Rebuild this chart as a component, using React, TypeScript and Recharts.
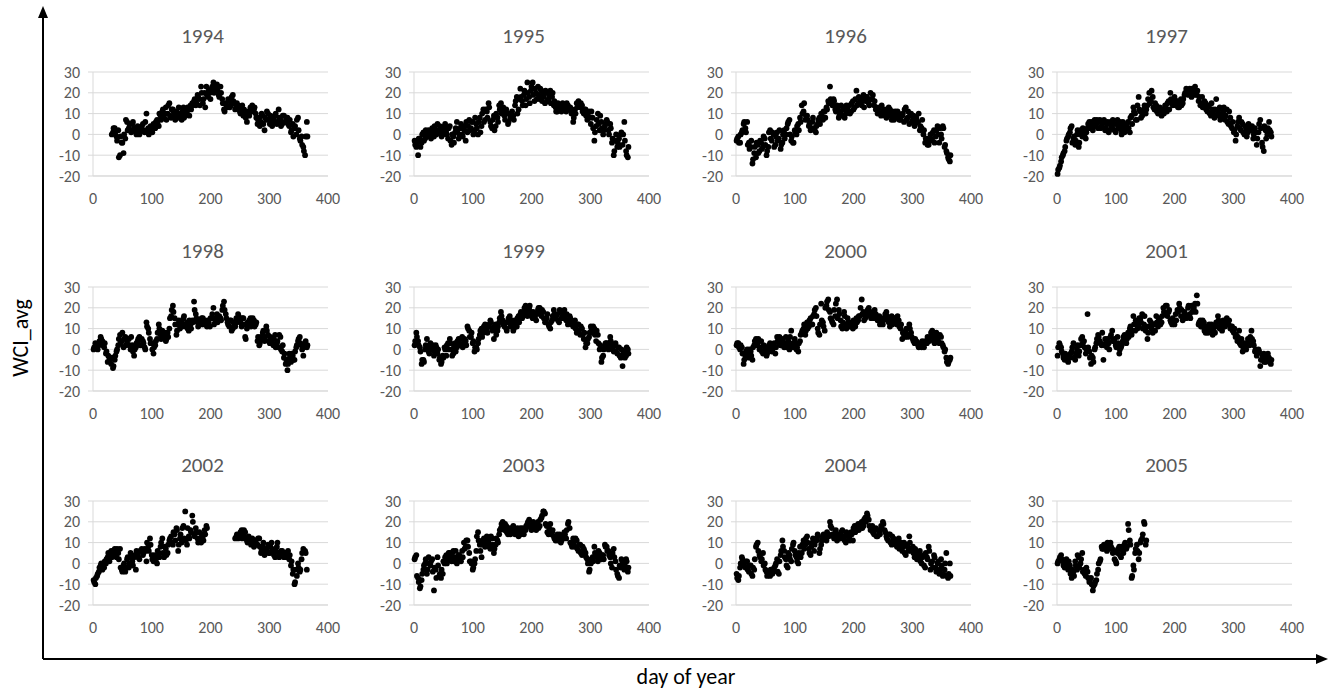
import { ScatterChart, Scatter, XAxis, YAxis, CartesianGrid } from 'recharts';

// day of year for the first set of samples
const DAYS_A = [
  1, 4, 7, 10, 13, 16, 19, 22, 25, 28,
  31, 34, 37, 40, 43, 46, 49, 52, 55, 58,
  61, 64, 67, 70, 73, 76, 79, 82, 85, 88,
  91, 94, 97, 100, 103, 106, 109, 112, 115, 118,
  121, 124, 127, 130, 133, 136, 139, 142, 145, 148,
  151, 154, 157, 160, 163, 166, 169, 172, 175, 178,
  181, 184, 187, 190, 193, 196, 199, 202, 205, 208,
  211, 214, 217, 220, 223, 226, 229, 232, 235, 238,
  241, 244, 247, 250, 253, 256, 259, 262, 265, 268,
  271, 274, 277, 280, 283, 286, 289, 292, 295, 298,
  301, 304, 307, 310, 313, 316, 319, 322, 325, 328,
  331, 334, 337, 340, 343, 346, 349, 352, 355, 358,
  361, 364,
];

// day of year for the second set of samples
const DAYS_B = [
  2, 5, 8, 11, 14, 17, 20, 23, 26, 29,
  32, 35, 38, 41, 44, 47, 50, 53, 56, 59,
  62, 65, 68, 71, 74, 77, 80, 83, 86, 89,
  92, 95, 98, 101, 104, 107, 110, 113, 116, 119,
  122, 125, 128, 131, 134, 137, 140, 143, 146, 149,
  152, 155, 158, 161, 164, 167, 170, 173, 176, 179,
  182, 185, 188, 191, 194, 197, 200, 203, 206, 209,
  212, 215, 218, 221, 224, 227, 230, 233, 236, 239,
  242, 245, 248, 251, 254, 257, 260, 263, 266, 269,
  272, 275, 278, 281, 284, 287, 290, 293, 296, 299,
  302, 305, 308, 311, 314, 317, 320, 323, 326, 329,
  332, 335, 338, 341, 344, 347, 350, 353, 356, 359,
  362, 365,
];

const WCI_1994_A = [
  null, null, null, null, null, null, null, null, null, null,
  null, 1, 3, -1, 2, -10, -4, -9, -2, 6,
  3, 2, 5, 3, 1, 4, 0, 2, 5, 1,
  10, 3, 1, 2, 5, 3, 7, 4, 9, 11,
  8, 13, 10, 15, 8, 12, 9, 11, 8, 10,
  7, 13, 9, 11, 12, 14, 15, 16, 14, 19,
  17, 23, 15, 20, 23, 18, 20, 22, 25, 21,
  24, 19, 23, 17, 12, 15, 13, 16, 14, 19,
  15, 13, 14, 11, 12, 9, 11, 6, 10, 13,
  14, 12, 10, 5, 8, 6, 9, 2, 7, 10,
  5, 8, 6, 9, 5, 12, 7, 5, 9, 6,
  8, 4, 1, 5, 3, 0, 8, -2, -1, -6,
  -10, 6,
];
const WCI_1994_B = [
  null, null, null, null, null, null, null, null, null, null,
  0, 3, 1, -3, -11, -1, -4, 0, 7, 2,
  5, 1, 6, 2, 0, 3, 1, 4, 2, 6,
  2, 0, 4, 1, 3, 6, 5, 10, 7, 12,
  10, 7, 14, 9, 12, 11, 7, 10, 13, 9,
  11, 8, 10, 13, 9, 12, 14, 17, 15, 18,
  14, 20, 17, 13, 19, 21, 17, 23, 20, 23,
  21, 18, 20, 15, 11, 14, 17, 13, 18, 16,
  12, 15, 13, 10, 14, 12, 8, 11, 9, 12,
  11, 13, 8, 7, 4, 10, 5, 8, 11, 7,
  9, 4, 7, 10, 6, 8, 4, 9, 6, 8,
  5, 7, 2, -1, 4, 7, 2, -3, -5, -8,
  -1, -1,
];

const WCI_1995_A = [
  -3, -6, -10, -2, -4, 1, -2, 0, 2, -1,
  3, -1, 2, 5, 1, 3, 0, 4, 2, -2,
  4, -5, -1, 1, 6, -2, 3, 0, 4, -3,
  1, 7, 3, 6, 2, 5, 0, 8, 4, 12,
  7, 11, 15, 6, 3, 9, 4, 8, 14, 15,
  11, 9, 12, 5, 10, 8, 9, 14, 18, 12,
  22, 16, 19, 14, 25, 18, 21, 25, 16, 20,
  23, 17, 21, 19, 15, 20, 17, 21, 18, 14,
  13, 11, 14, 12, 15, 13, 11, 14, 12, 10,
  6, 12, 15, 16, 13, 14, 10, 12, 7, 11,
  5, 8, -3, 4, 10, 2, 6, 0, 4, 7,
  2, 5, -4, -10, -3, -6, -2, 0, -5, 6,
  -8, -11,
];
const WCI_1995_B = [
  -5, -4, -2, -6, 0, -3, 2, -1, 1, -2,
  1, 4, 0, 2, 4, -1, 2, 5, 0, 3,
  -3, 0, -4, 3, 2, 0, 5, -1, 2, 6,
  4, 2, 6, 0, 8, 3, 6, 1, 10, 6,
  12, 8, 13, 4, 7, 2, 10, 6, 12, 10,
  13, 7, 10, 6, 8, 11, 7, 16, 10, 17,
  18, 14, 21, 17, 20, 15, 23, 19, 22, 17,
  19, 22, 16, 18, 21, 16, 19, 15, 20, 16,
  11, 15, 13, 11, 12, 14, 15, 12, 13, 11,
  8, 10, 13, 14, 15, 11, 12, 9, 10, 8,
  11, 3, 1, 7, 5, 9, 3, 2, 5, 6,
  0, 3, -2, -8, 0, -4, -6, 1, 0, -3,
  -10, -6,
];

const WCI_1996_A = [
  -3, -1, -4, 1, 5, 3, 6, -4, -6, -14,
  -9, -11, -5, -8, -4, -6, -2, -10, -6, 2,
  -3, 0, -5, 1, -2, -7, -4, 2, 0, 5,
  7, -3, -4, 2, 0, 5, 8, 14, 11, 7,
  9, 4, 2, 6, 3, 1, 5, 8, 10, 7,
  11, 13, 16, 23, 15, 17, 12, 14, 8, 11,
  9, 13, 10, 12, 14, 11, 16, 13, 21, 15,
  17, 14, 19, 16, 18, 15, 20, 17, 14, 12,
  10, 13, 9, 11, 12, 8, 10, 12, 7, 9,
  11, 8, 10, 7, 9, 6, 13, 8, 5, 10,
  7, 4, 8, 6, 2, 3, 0, -4, -2, -5,
  0, -3, 2, -1, 4, -4, 0, 4, -6, -8,
  -11, -13,
];
const WCI_1996_B = [
  -2, -4, 0, 2, 6, 1, -5, -7, -3, -12,
  -6, -4, -9, -3, -7, -1, -5, -8, 1, -2,
  1, -6, -1, -3, 2, -5, 0, -2, 3, 6,
  0, -1, -4, 1, 4, 2, 6, 10, 15, 9,
  7, 5, 3, 8, 2, 4, 7, 5, 9, 11,
  8, 12, 15, 17, 14, 16, 11, 13, 9, 14,
  12, 8, 14, 11, 10, 15, 12, 17, 14, 18,
  15, 17, 13, 18, 16, 14, 17, 19, 16, 13,
  12, 10, 14, 10, 9, 11, 13, 9, 11, 7,
  9, 11, 7, 9, 10, 12, 7, 11, 9, 6,
  9, 5, 6, 10, 4, 7, 2, -2, -5, -3,
  -2, 1, -4, 2, 0, 3, -2, 3, -5, -9,
  -12, -10,
];

const WCI_1997_A = [
  -19, -16, -13, -10, -8, -3, -1, 1, 4, -2,
  -5, 0, -6, 2, -1, 1, -2, 3, 6, 4,
  2, 7, 5, 3, 7, 4, 6, 2, 5, 1,
  6, 3, 5, 1, 7, 4, 2, 6, 1, 3,
  6, 1, 9, 13, 10, 7, 18, 11, 9, 12,
  10, 14, 20, 16, 18, 12, 14, 10, 13, 9,
  12, 14, 11, 16, 20, 15, 17, 14, 16, 13,
  17, 15, 19, 22, 20, 22, 18, 21, 23, 19,
  16, 14, 18, 13, 15, 11, 14, 9, 12, 8,
  17, 10, 13, 8, 11, 7, 12, 5, 8, 3,
  1, -3, 4, 8, 2, 5, 0, 3, 1, 4,
  2, -2, 3, -5, 1, 7, -4, -8, 2, 0,
  6, 1,
];
const WCI_1997_B = [
  -17, -15, -11, -9, -6, -2, 0, 3, -4, -1,
  -3, 2, -4, 0, 3, -1, 1, 5, 3, 6,
  5, 4, 7, 6, 3, 5, 7, 3, 6, 2,
  4, 7, 2, 5, 3, 6, 0, 4, 2, 5,
  3, 8, 5, 11, 7, 14, 12, 8, 10, 14,
  12, 17, 15, 21, 13, 15, 11, 12, 10, 12,
  10, 13, 15, 12, 17, 14, 18, 16, 13, 15,
  14, 17, 20, 21, 19, 20, 22, 19, 20, 21,
  18, 15, 13, 16, 12, 13, 10, 15, 10, 12,
  9, 12, 7, 10, 13, 9, 6, 11, 4, 6,
  2, 0, 6, 3, 6, 1, 4, -1, 5, 2,
  4, 0, 1, -2, 5, 3, -6, 4, -2, 3,
  2, -1,
];

const WCI_1998_A = [
  0, 3, 1, 2, 6, 4, 1, -2, -6, -4,
  -7, -9, -5, -1, 2, 7, 4, 1, 6, 3,
  5, 0, 2, -3, 1, 4, 6, 2, 4, 1,
  13, 10, 5, 3, -2, 2, 5, 12, 7, 9,
  6, 4, 8, 10, 16, 21, 15, 7, 12, 10,
  13, 15, 11, 13, 9, 12, 14, 23, 17, 13,
  14, 12, 15, 13, 12, 14, 11, 15, 20, 13,
  17, 14, 15, 19, 23, 17, 13, 11, 14, 10,
  12, 15, 17, 14, 11, 15, 6, 10, 12, 15,
  13, 14, 12, 4, 2, 6, 8, 4, 11, 7,
  3, 5, 2, 7, 3, 1, 6, -1, -4, -7,
  -10, -2, -6, -3, -5, 1, 4, 6, 2, -3,
  3, 1,
];
const WCI_1998_B = [
  1, 2, 0, 4, 5, 2, 3, -1, -3, -5,
  -4, -8, -3, 0, 5, 3, 8, 5, 2, 5,
  2, 6, -1, 0, 3, 5, 2, 5, 3, 0,
  11, 8, 3, 0, 1, 4, 8, 10, 5, 6,
  8, 5, 6, 15, 19, 18, 12, 9, 14, 11,
  11, 16, 12, 10, 14, 10, 13, 19, 15, 11,
  13, 15, 12, 14, 11, 13, 15, 17, 12, 15,
  13, 16, 14, 21, 19, 15, 12, 14, 9, 13,
  11, 13, 16, 13, 15, 12, 5, 13, 14, 11,
  15, 11, 13, 6, 3, 5, 9, 6, 9, 4,
  6, 3, 5, 1, 4, 7, 0, 2, -2, -5,
  -7, -4, -2, -5, -1, 2, 5, 3, 0, 1,
  4, 2,
];

const WCI_1999_A = [
  2, 8, 4, 1, -7, -5, 0, 5, -1, 3,
  0, -3, 2, -2, -5, -7, -3, 1, -3, 3,
  5, 0, -2, 3, 1, 5, 2, 6, 3, 4,
  11, 9, 6, 3, -1, 1, 3, 7, 10, 8,
  12, 9, 11, 14, 10, 5, 12, 9, 13, 18,
  14, 11, 10, 13, 16, 12, 9, 14, 11, 16,
  17, 15, 18, 21, 16, 20, 18, 15, 17, 14,
  19, 20, 16, 18, 13, 15, 12, 10, 14, 19,
  15, 17, 13, 18, 16, 19, 14, 12, 16, 13,
  11, 14, 8, 12, 7, 10, 5, 1, 3, 6,
  11, 8, 10, 4, 7, 0, -6, -3, 1, 3,
  0, 6, 2, -1, 3, -2, 1, -4, -8, -1,
  -3, 0,
];
const WCI_1999_B = [
  4, 6, 2, -1, -5, -6, 2, 1, -2, 1,
  2, -1, 1, 0, -4, -6, -4, 0, 2, 0,
  3, -3, 1, -1, 4, 3, 5, 1, 5, 2,
  10, 6, 8, 4, 1, 0, 5, 9, 6, 11,
  10, 8, 12, 13, 9, 11, 7, 11, 15, 16,
  12, 13, 9, 15, 11, 14, 10, 12, 15, 13,
  18, 16, 20, 17, 19, 21, 16, 18, 15, 17,
  20, 17, 19, 15, 14, 17, 11, 13, 16, 17,
  16, 14, 19, 15, 17, 15, 17, 13, 15, 12,
  13, 10, 12, 9, 11, 7, 8, 3, 5, 8,
  10, 11, 7, 9, 3, 2, -4, 0, 3, 1,
  3, 4, 0, 2, -1, 1, -3, 0, -2, -4,
  1, -2,
];

const WCI_2000_A = [
  2, 3, 0, 1, -7, -3, 0, -4, -1, -5,
  2, 5, 3, 0, 4, -2, 1, -3, 0, 3,
  -1, 1, -2, 6, 3, 2, 4, 1, 6, 2,
  0, 9, 3, 5, 0, -1, 4, 8, 10, 7,
  13, 11, 15, 12, 17, 20, 10, 7, 22, 13,
  9, 21, 24, 18, 14, 12, 16, 24, 19, 14,
  10, 18, 12, 15, 11, 13, 10, 12, 15, 14,
  16, 24, 18, 15, 17, 20, 16, 18, 15, 17,
  14, 16, 13, 12, 15, 18, 14, 11, 16, 13,
  15, 12, 14, 10, 5, 7, 9, 6, 12, 8,
  5, 3, 4, 2, 3, 1, 2, 4, 3, 5,
  6, 9, 4, 7, 5, 3, 6, 2, -1, -4,
  -7, -5,
];
const WCI_2000_B = [
  3, 1, 2, -2, -5, -1, -2, 0, -3, 1,
  4, 2, 5, 1, -1, 2, 0, -2, 2, 1,
  0, 3, 1, 4, 6, 2, 5, 3, 1, 4,
  6, 2, 1, 3, 1, 3, 7, 9, 12, 9,
  10, 14, 12, 16, 19, 16, 8, 12, 14, 11,
  20, 23, 19, 15, 13, 19, 22, 15, 17, 11,
  13, 16, 10, 13, 12, 11, 14, 11, 13, 16,
  20, 17, 14, 16, 19, 17, 15, 17, 19, 16,
  15, 12, 15, 14, 17, 16, 13, 15, 12, 15,
  13, 16, 11, 12, 8, 6, 10, 7, 10, 6,
  4, 5, 3, 1, 2, 4, 1, 3, 6, 4,
  8, 6, 3, 8, 4, 7, 3, 1, 0, -6,
  -6, -4,
];

const WCI_2001_A = [
  -3, 3, 1, -2, -5, -3, -6, -4, -1, 3,
  -5, 0, -3, 2, 6, 4, -2, 17, -1, -7,
  -4, 0, 3, 7, 4, 2, -5, 5, 1, 3,
  6, 9, 4, 2, 6, -2, 1, 4, 7, 3,
  8, 10, 7, 16, 9, 13, 11, 15, 17, 12,
  9, 5, 11, 13, 8, 12, 16, 11, 14, 13,
  20, 17, 21, 18, 14, 12, 13, 17, 19, 22,
  16, 14, 18, 15, 20, 17, 21, 19, 22, 26,
  12, 14, 11, 13, 8, 10, 12, 9, 7, 11,
  13, 16, 10, 12, 14, 11, 15, 12, 10, 11,
  8, 6, 4, 9, 2, -1, 3, 0, 5, 2,
  9, 4, -1, -3, 0, -8, -5, -2, -6, -3,
  -4, -7,
];
const WCI_2001_B = [
  1, 2, -1, -4, -2, -5, -3, -2, 1, -4,
  -2, 2, -1, 5, 3, 1, 0, 1, -4, -3,
  -6, 1, 5, 6, 3, 8, 2, 3, 5, 0,
  7, 4, 5, 1, 3, 0, 2, 6, 4, 5,
  6, 11, 9, 12, 14, 10, 15, 13, 10, 16,
  11, 8, 14, 10, 12, 9, 13, 15, 12, 16,
  18, 21, 16, 19, 13, 15, 12, 14, 18, 20,
  19, 15, 17, 16, 21, 15, 18, 20, 18, 22,
  13, 11, 14, 9, 11, 8, 10, 12, 10, 8,
  11, 14, 13, 9, 11, 13, 12, 14, 11, 9,
  10, 7, 6, 3, 5, 1, 0, 2, 4, 6,
  5, 2, 0, -2, -1, -5, -3, -6, -4, -2,
  -6, -5,
];

const WCI_2002_A = [
  -8, -10, -6, -4, -1, -3, -2, 0, 3, 1,
  6, 4, 7, 3, 5, 7, -3, -1, -4, 2,
  -2, 5, 1, 3, -3, 5, 2, 6, 4, 7,
  1, 8, 12, 4, 1, 3, 0, 5, 8, 12,
  3, 7, 5, 11, 13, 9, 14, 17, 6, 12,
  10, 18, 25, 9, 13, 16, 23, 14, 17, 12,
  15, 10, 13, 16, 18, null, null, null, null, null,
  null, null, null, null, null, null, null, null, null, null,
  null, 13, 12, 14, 16, 13, 15, 11, 13, 10,
  12, 8, 11, 9, 12, 5, 8, 4, 7, 9,
  5, 10, 6, 3, 8, 5, 4, 6, 3, 5,
  4, 2, -1, -5, -10, -3, 0, -4, 2, 7,
  6, -3,
];
const WCI_2002_B = [
  -9, -7, -5, -2, 0, -1, 1, 2, 5, 4,
  3, 6, 5, 7, 2, -2, -4, 0, -2, 3,
  0, 3, -1, 4, 6, 3, 6, 7, 5, 6,
  10, 6, 9, 2, 4, 1, 6, 3, 10, 5,
  8, 4, 9, 12, 10, 15, 11, 16, 9, 14,
  17, 12, 11, 17, 12, 15, 20, 13, 15, 10,
  12, 14, 11, 14, 17, null, null, null, null, null,
  null, null, null, null, null, null, null, null, null, null,
  12, 14, 13, 15, 12, 16, 12, 10, 12, 9,
  10, 11, 9, 12, 8, 6, 10, 5, 7, 5,
  8, 7, 4, 6, 10, 3, 6, 4, 5, 3,
  6, 4, 1, -3, -9, -6, -2, -3, 5, 6,
  5, null,
];

const WCI_2003_A = [
  2, 4, -7, -12, -8, -3, 0, -5, 3, -1,
  2, -13, -3, 3, -6, -7, -5, 0, 4, 2,
  5, 1, 6, 3, 0, 4, 2, 6, 10, 8,
  11, 5, 1, -3, 0, 6, 15, 9, 3, 11,
  8, 13, 10, 7, 12, 5, 9, 11, 14, 17,
  20, 16, 18, 14, 17, 15, 18, 14, 16, 13,
  17, 15, 14, 16, 19, 21, 17, 19, 18, 16,
  20, 18, 22, 25, 24, 18, 14, 19, 15, 13,
  11, 14, 12, 10, 13, 15, 12, 19, 17, 9,
  12, 8, 11, 6, 9, 4, 7, 5, 2, -4,
  0, 3, 8, 4, 1, 5, 2, 4, 9, 8,
  6, 3, -2, 7, 1, -5, -7, -2, 1, -3,
  2, -4,
];
const WCI_2003_B = [
  3, -6, -9, -11, -5, -1, 2, -3, 0, 1,
  -4, -2, -7, -1, -5, -3, 1, 3, 0, 5,
  3, 5, 1, 6, 2, 4, 1, 3, 7, 11,
  8, 1, 0, -2, 2, 13, 11, 6, 9, 12,
  10, 11, 8, 13, 9, 7, 12, 10, 16, 19,
  17, 19, 15, 16, 14, 17, 16, 15, 17, 15,
  14, 17, 16, 18, 20, 18, 16, 20, 17, 19,
  17, 21, 23, 25, 19, 15, 17, 14, 16, 12,
  13, 11, 14, 11, 12, 14, 16, 20, 10, 8,
  10, 12, 7, 9, 5, 8, 6, 3, 0, -3,
  2, 1, 5, 3, 6, 3, 4, 2, 8, 6,
  4, 0, 5, 3, -3, -6, -1, 2, 0, -1,
  1, -2,
];

const WCI_2004_A = [
  -5, -8, -2, 3, 0, -2, 1, -4, -1, -6,
  -3, 8, 10, 4, 1, 5, 0, -4, -5, -6,
  -3, -4, -1, 2, -5, 4, 11, 6, 2, -2,
  4, 1, 9, 6, 3, 0, 8, 5, 11, 9,
  13, 7, 4, 10, 6, 12, 14, 5, 9, 12,
  13, 11, 14, 20, 17, 13, 15, 11, 14, 12,
  16, 13, 10, 14, 12, 15, 11, 18, 16, 19,
  17, 20, 18, 22, 24, 21, 16, 18, 14, 17,
  13, 15, 18, 20, 16, 13, 11, 14, 9, 12,
  10, 8, 12, 9, 6, 10, 4, 8, 13, 6,
  8, 3, 5, 2, 6, 0, 4, -2, 3, 8,
  -3, 1, 4, -2, 0, -5, 2, -6, -3, 5,
  -7, 0,
];
const WCI_2004_B = [
  -7, -6, 0, 2, -1, 1, -3, -1, -5, -2,
  2, 9, 6, 3, 2, -1, -3, -6, -4, -3,
  -5, -2, 0, -4, 1, 6, 8, 3, -1, 5,
  2, 7, 10, 4, 1, 5, 3, 9, 7, 12,
  10, 5, 8, 12, 9, 11, 13, 7, 11, 14,
  12, 15, 13, 18, 14, 12, 16, 13, 12, 15,
  13, 11, 15, 13, 11, 14, 17, 15, 18, 16,
  19, 17, 21, 20, 23, 18, 17, 15, 16, 13,
  16, 14, 17, 19, 15, 12, 14, 10, 13, 11,
  9, 11, 7, 10, 8, 5, 9, 6, 10, 7,
  5, 7, 2, 4, 1, 3, -1, 5, 2, 6,
  0, -2, 3, -4, 1, -3, -1, -5, 0, -6,
  -5, -6,
];

const WCI_2005_A = [
  0, 2, 4, 1, -2, 2, -3, -1, -7, -4,
  1, -3, 3, 0, 5, -3, -6, -4, -9, -7,
  -13, -10, -8, -3, 1, 8, 7, 9, 6, 8,
  10, 7, 6, 1, 5, 8, 3, 6, 9, 7,
  19, 11, -7, -1, 5, 9, 2, 10, 12, 20,
  9,
];
const WCI_2005_B = [
  1, 3, 2, -1, 0, -2, 1, -5, -3, -6,
  -1, 4, -2, 2, -4, -5, -2, -7, -8, -10,
  -11, -9, -5, 0, 2, 7, 9, 8, 10, 7,
  8, 5, 2, 0, 7, 4, 8, 5, 10, 8,
  16, 9, -6, -3, 7, 6, 5, 11, 14, 19,
  11,
];

const YEARS = ['1994', '1995', '1996', '1997', '1998', '1999', '2000', '2001', '2002', '2003', '2004', '2005'];
const SERIES_A = [WCI_1994_A, WCI_1995_A, WCI_1996_A, WCI_1997_A, WCI_1998_A, WCI_1999_A, WCI_2000_A, WCI_2001_A, WCI_2002_A, WCI_2003_A, WCI_2004_A, WCI_2005_A];
const SERIES_B = [WCI_1994_B, WCI_1995_B, WCI_1996_B, WCI_1997_B, WCI_1998_B, WCI_1999_B, WCI_2000_B, WCI_2001_B, WCI_2002_B, WCI_2003_B, WCI_2004_B, WCI_2005_B];
const X_TICKS = [0, 100, 200, 300, 400];
const Y_TICKS = [-20, -10, 0, 10, 20, 30];

const FONT = "Calibri, Carlito, 'Open Sans', sans-serif";
const COL_X = [93, 414, 736, 1057];
const ROW_Y = [72, 287, 501];
const PLOT_W = 235;
const PLOT_H = 104;
const AXIS_W = 60;

const Dot = (p: any) => <circle cx={p.cx} cy={p.cy} r={2.9} fill="#000" />;

function toPoints(days: number[], values: (number | null)[]) {
  return days.map((d, i) => ({ day: d, wci: values[i] })).filter((p) => p.wci != null);
}

function YearPanel({ index, left, top }: { index: number; left: number; top: number }) {
  const data = [...toPoints(DAYS_A, SERIES_A[index]), ...toPoints(DAYS_B, SERIES_B[index])];
  return (
    <>
      <div
        style={{
          position: 'absolute',
          left: left + PLOT_W / 2 - 8 - 60,
          top: top - 50,
          width: 120,
          textAlign: 'center',
          fontFamily: FONT,
          fontSize: 21,
          lineHeight: '28px',
          color: '#595959',
        }}
      >
        {YEARS[index]}
      </div>
      <div style={{ position: 'absolute', left: left - AXIS_W, top: top - 8 }}>
        <ScatterChart width={AXIS_W + PLOT_W + 14} height={8 + PLOT_H + 40} margin={{ top: 8, right: 14, bottom: 0, left: 0 }}>
          <CartesianGrid vertical={false} stroke="#d9d9d9" />
          <XAxis
            type="number"
            dataKey="day"
            domain={[0, 400]}
            ticks={X_TICKS}
            interval={0}
            height={40}
            axisLine={{ stroke: '#d9d9d9' }}
            tickLine={false}
            tickSize={0}
            tickMargin={17}
            tick={{ fontSize: 16, fill: '#595959', fontFamily: FONT }}
          />
          <YAxis
            type="number"
            dataKey="wci"
            domain={[-20, 30]}
            ticks={Y_TICKS}
            interval={0}
            width={AXIS_W}
            axisLine={{ stroke: '#d9d9d9' }}
            tickLine={{ stroke: '#d9d9d9' }}
            tickSize={5}
            tickMargin={8}
            tick={{ fontSize: 16, fill: '#595959', fontFamily: FONT }}
          />
          <Scatter data={data} shape={Dot} isAnimationActive={false} />
        </ScatterChart>
      </div>
    </>
  );
}

export default function App() {
  return (
    <div style={{ position: 'absolute', left: 0, top: 0, width: 1329, height: 697, background: '#fff', overflow: 'hidden' }}>
      <svg width={1329} height={697} style={{ position: 'absolute', left: 0, top: 0 }}>
        <line x1={43} y1={659} x2={43} y2={16} stroke="#000" strokeWidth={2} />
        <polygon points="43,6 38,18 48,18" fill="#000" />
        <line x1={43} y1={659} x2={1318} y2={659} stroke="#000" strokeWidth={2} />
        <polygon points="1328,659 1316,654 1316,664" fill="#000" />
      </svg>
      {YEARS.map((y, i) => (
        <YearPanel key={y} index={i} left={COL_X[i % 4]} top={ROW_Y[Math.floor(i / 4)]} />
      ))}
      <div
        style={{
          position: 'absolute',
          left: 20,
          top: 338,
          transform: 'translate(-50%, -50%) rotate(-90deg)',
          fontFamily: FONT,
          fontSize: 22,
          color: '#000',
          whiteSpace: 'nowrap',
        }}
      >
        WCI_avg
      </div>
      <div
        style={{
          position: 'absolute',
          left: 686,
          top: 676,
          transform: 'translate(-50%, -50%)',
          fontFamily: FONT,
          fontSize: 22,
          color: '#000',
          whiteSpace: 'nowrap',
        }}
      >
        day of year
      </div>
    </div>
  );
}
